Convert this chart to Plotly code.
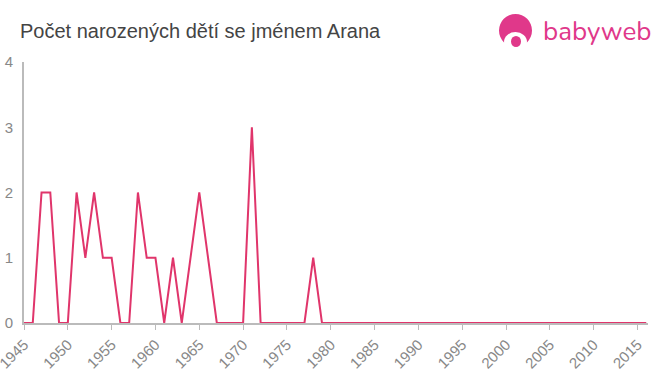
import plotly.graph_objects as go

years = list(range(1945, 2017))
values = [0, 0, 2, 2, 0, 0, 2, 1, 2, 1, 1, 0, 0, 2, 1, 1, 0, 1, 0, 1, 2, 1, 0,
          0, 0, 0, 3, 0, 0, 0, 0, 0, 0, 1, 0] + [0] * (2016 - 1979)
tick_years = list(range(1945, 2016, 5))
y_ticks = [0, 1, 2, 3, 4]

W, H = 660, 375
L, R, T, B = 24, 12, 62, 52
PW, PH = W - L - R, H - T - B


def px(x):
    return (x - L) / PW


def py(y):
    return (H - B - y) / PH


fig = go.Figure()
fig.add_trace(go.Scatter(x=years, y=values, mode="lines",
                         line=dict(color="#e0356b", width=2), hoverinfo="x+y"))

fig.update_layout(
    width=W, height=H,
    margin=dict(l=L, r=R, t=T, b=B, autoexpand=False),
    paper_bgcolor="white", plot_bgcolor="white",
    showlegend=False,
    font=dict(family="Liberation Sans, Arial, sans-serif", color="#888888", size=15),
    title=dict(text="Počet narozených dětí se jménem Arana", x=20 / W, xanchor="left",
               y=1 - 31 / H, yanchor="middle",
               font=dict(size=20, color="#444444", family="Liberation Sans, Arial, sans-serif")),
    xaxis=dict(range=[1945, 2016.2], tickvals=tick_years, ticktext=[str(t) for t in tick_years],
               tickangle=-45, showgrid=False, zeroline=False, showline=True, automargin=False,
               ticklabeloverflow="allow",
               linecolor="#bbbbbb", linewidth=2, ticks="outside", ticklen=5,
               tickcolor="#bbbbbb", tickfont=dict(size=15, color="#888888")),
    yaxis=dict(range=[0, 4], tickvals=y_ticks, showgrid=False, zeroline=False, automargin=False,
               showline=True, linecolor="#bbbbbb", linewidth=2, ticks="",
               ticklabelstandoff=6, tickfont=dict(size=15, color="#888888")),
)

# babyweb logo
pink = "#e0388a"
fig.add_shape(type="circle", xref="paper", yref="paper", layer="above",
              x0=px(499), x1=px(532), y0=py(47), y1=py(14),
              fillcolor=pink, line=dict(width=0))
fig.add_shape(type="circle", xref="paper", yref="paper", layer="above",
              x0=px(504), x1=px(527), y0=py(52), y1=py(32),
              fillcolor="white", line=dict(width=0))
fig.add_shape(type="rect", xref="paper", yref="paper", layer="above",
              x0=px(496), x1=px(535), y0=py(52), y1=py(47),
              fillcolor="white", line=dict(width=0))
fig.add_shape(type="circle", xref="paper", yref="paper", layer="above",
              x0=px(511), x1=px(521), y0=py(47), y1=py(36),
              fillcolor=pink, line=dict(width=0))
fig.add_annotation(xref="paper", yref="paper", x=px(653), y=py(32), xanchor="right", yanchor="middle",
                   text="babyweb", showarrow=False,
                   font=dict(size=26, color=pink, family="Nunito, Lato, sans-serif"))

fig.write_html("out.html", config={"displayModeBar": False},
               post_script="document.body.style.margin='0';document.body.style.overflow='hidden';")
